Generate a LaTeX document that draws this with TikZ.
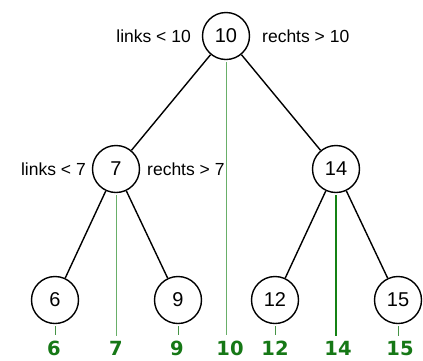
\documentclass[tikz,border=0pt]{standalone}
\usepackage{fontspec}
\setmainfont{Liberation Sans}
\newfontfamily\keyfont{DejaVu Sans}
\definecolor{keygreen}{RGB}{22,120,22}
\definecolor{linegreen}{RGB}{105,175,105}
\definecolor{darkline}{RGB}{20,130,20}

\begin{document}
\begin{tikzpicture}[x=1pt,y=-1pt,
    knoten/.style={circle,draw,line width=1.4pt,minimum size=47pt,inner sep=0pt,font=\fontsize{20}{22}\selectfont},
    kante/.style={line width=1.4pt},
    hinweis/.style={inner sep=0pt,font=\fontsize{17.5}{20}\selectfont},
    schluessel/.style={anchor=base,inner sep=0pt,text=keygreen,font=\keyfont\bfseries\fontsize{19.5}{22}\selectfont},
    lot/.style={linegreen,line width=1pt,shorten >=5pt}]
    \useasboundingbox (0,0) rectangle (423,360);
    % the tree
    \node (n10) [knoten] at (226,36) {10};
    \node (n7) [knoten] at (116,169) {7};
    \node (n14) [knoten] at (336,169) {14};
    \node (n6) [knoten] at (55,300) {6};
    \node (n9) [knoten] at (178,300) {9};
    \node (n12) [knoten] at (275,300) {12};
    \node (n15) [knoten] at (398,300) {15};
    \draw[kante] (n10) -- (n7);
    \draw[kante] (n10) -- (n14);
    \draw[kante] (n7) -- (n6);
    \draw[kante] (n7) -- (n9);
    \draw[kante] (n14) -- (n12);
    \draw[kante] (n14) -- (n15);
    % hints beside the nodes
    \node (links10) [hinweis,anchor=east] at (191,36) {links < 10};
    \node (rechts10) [hinweis,anchor=west] at (262,36) {rechts > 10};
    \node (links7) [hinweis,anchor=east] at (86,169) {links < 7};
    \node (rechts7) [hinweis,anchor=west] at (147,169) {rechts > 7};
    % sorted keys
    \node (l6) [schluessel] at (54,355) {6};
    \node (l7) [schluessel] at (116,355) {7};
    \node (l9) [schluessel] at (177,355) {9};
    \node (l10) [schluessel] at (230,355) {10};
    \node (l12) [schluessel] at (275,355) {12};
    \node (l14) [schluessel] at (338,355) {14};
    \node (l15) [schluessel] at (400,355) {15};
    \draw[lot,shorten <=2pt] (n10.south) -- (n10.south |- l10.north);
    \draw[lot,shorten <=2pt] (n7.south) -- (n7.south |- l7.north);
    \draw[lot,darkline,line width=1.3pt,shorten <=2pt] (n14.south) -- (n14.south |- l14.north);
    \foreach \k in {6,9,12,15}
      \draw[lot,keygreen!80!white,shorten <=2pt] (n\k.south) -- (n\k.south |- l\k.north);
\end{tikzpicture}
\end{document}
